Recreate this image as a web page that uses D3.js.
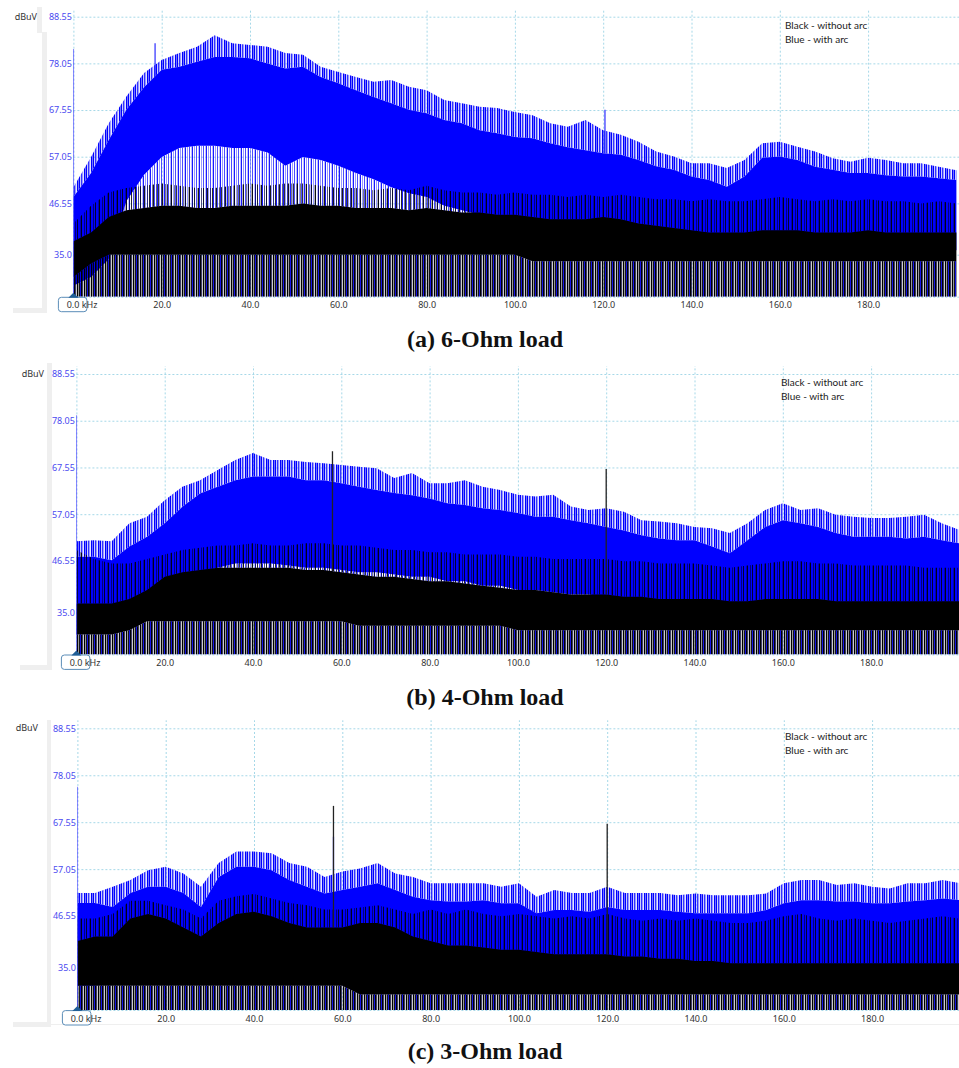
<!DOCTYPE html>
<html>
<head>
<meta charset="utf-8">
<script src="https://cdnjs.cloudflare.com/ajax/libs/d3/7.8.5/d3.min.js"></script>
<style>
  body { margin: 0; background: #fff; }
  svg { display: block; }
</style>
</head>
<body>
<div id="chart"></div>
<script>
var svgWidth = 959;
var svgHeight = 1068;
var pxPerKhz = 4.415;

var yMin = 25.55;
var yMax = 88.55;
var yTicks = [88.55, 78.05, 67.55, 57.05, 46.55, 35.0];
var yTickLabels = ["88.55", "78.05", "67.55", "57.05", "46.55", "35.0"];
var xTicks = [20, 40, 60, 80, 100, 120, 140, 160, 180];
var xGrid = [0, 20, 40, 60, 80, 100, 120, 140, 160, 180];
var legendLines = ["Black - without arc", "Blue - with arc"];
var captions = ["(a) 6-Ohm load", "(b) 4-Ohm load", "(c) 3-Ohm load"];

// kHz, one reading every 4 kHz
var freq = [0, 4, 8, 12, 16, 20, 24, 28, 32, 36,
  40, 44, 48, 52, 56, 60, 64, 68, 72, 76,
  80, 84, 88, 92, 96, 100, 104, 108, 112, 116,
  120, 124, 128, 132, 136, 140, 144, 148, 152, 156,
  160, 164, 168, 172, 176, 180, 184, 188, 192, 196,
  200];

// (a) 6-Ohm, dBuV: peak = top of spikes, hi / lo = edges of the dense band
var aBluePeak = [50.2, 57, 64.6, 70.6, 75.9, 78.8, 80.4, 81.8, 84.4, 82.6,
  82.2, 81.8, 80.4, 80, 77.3, 76.1, 75, 73.9, 74.3, 72.8,
  72, 69.8, 69.1, 68.3, 68, 67.1, 66.4, 64.6, 63.8, 65.3,
  63, 62, 60.4, 58.2, 57.1, 55.6, 55.6, 54.5, 56.3, 60.1,
  60.4, 59.3, 58.2, 56.7, 55.9, 56.8, 56.3, 55.6, 55.6, 54.8,
  54];
var aBlueHi = [48, 53.4, 60.8, 67.6, 72.7, 76.6, 77.3, 78.4, 79.5, 79.5,
  79.2, 78, 76.9, 77.3, 75, 73.6, 72, 70.5, 69.1, 67.6,
  66.8, 65.3, 64.6, 63, 62.3, 61.5, 61.2, 60.1, 59.2, 58.5,
  57.8, 57.5, 56.3, 54.9, 54.1, 52.6, 51.8, 50.3, 52.6, 56.8,
  57.1, 56.3, 54.8, 54.1, 53.4, 53.4, 52.9, 52.6, 52.6, 52.2,
  51.8];
var aBlueLo = [28, 30, 34, 47, 53, 57, 59, 59.5, 59.5, 59,
  59, 58, 55, 57, 56.3, 55, 53.4, 52, 50.2, 48.8,
  48, 46, 45, 44, 43, 42, 41, 40, 39, 38,
  37.5, 37, 37, 36.5, 36, 36, 36, 36, 36, 36,
  36, 36, 36, 36, 36, 36, 36, 36, 36, 36,
  36];
var aBlackPeak = [42, 46, 49, 50, 50.5, 51, 50.5, 50, 50, 50.5,
  51, 50.5, 51, 51, 50.5, 50, 50, 49.5, 50, 49.5,
  50.5, 49.5, 49, 49, 48.5, 49, 48.5, 48.5, 48, 48.5,
  48, 48.5, 48, 47.5, 47.5, 47, 47.5, 47, 47, 47.5,
  48, 47.5, 47, 47.5, 47, 47.5, 47, 47, 46.5, 47,
  46.5];
var aBlackHi = [38, 40, 43.5, 45, 45.5, 46, 46, 45.5, 45.5, 46,
  46, 46, 46, 46.5, 46, 46, 45.5, 45.5, 45.5, 45,
  45.5, 45, 44.5, 44.5, 44, 44, 43.5, 43, 43, 43,
  43.5, 43, 42, 41.5, 41, 40.5, 40, 40, 40, 40.5,
  40.5, 40.5, 40, 40, 40, 40.5, 40, 40, 40, 40,
  40];
var aBlackLo = [30, 33, 35, 35, 35, 35, 35, 35, 35, 35,
  35, 35, 35, 35, 35, 35, 35, 35, 35, 35,
  35, 35, 35, 35, 35, 35, 33.5, 33.5, 33.5, 33.5,
  33.5, 33.5, 33.5, 33.5, 33.5, 33.5, 33.5, 33.5, 33.5, 33.5,
  33.5, 33.5, 33.5, 33.5, 33.5, 33.5, 33.5, 33.5, 33.5, 33.5,
  33.5];
var aSpikeF = [0, 18.5, 120.4];
var aSpikeV = [81.3, 82.6, 67.6];
var aSpikeS = ["blue", "blue", "blue"];

// (b) 4-Ohm
var bBluePeak = [51, 51.2, 51, 55, 56.5, 60.2, 63.2, 64.7, 67, 69.2,
  70.8, 69.2, 69.2, 68.8, 68.5, 68.1, 67.7, 67.4, 65.2, 66.3,
  64, 64, 64.7, 63.2, 62.5, 61.4, 61, 61.4, 58.8, 58,
  58.4, 57.6, 55.7, 55.4, 55, 54.2, 53.9, 52.8, 55, 58,
  59.5, 58, 58.4, 56.9, 56.5, 56.2, 56.2, 56.5, 56.9, 55,
  53.5];
var bBlueHi = [47.5, 47.5, 46.7, 49.8, 52, 55, 58.7, 61.7, 63.2, 64.7,
  65.5, 65.5, 65.5, 64.7, 64.7, 64, 63.2, 62.5, 61.8, 61.3,
  60.6, 59.5, 59.1, 58.4, 58, 57.3, 56.5, 56.5, 55.7, 55,
  54.2, 53.4, 52.3, 51.6, 51.2, 51.2, 49.8, 48.3, 51.2, 54.2,
  55.7, 55, 54.2, 52.8, 52, 52, 52, 51.6, 52, 51.2,
  50.5];
var bBlueLo = [30, 31, 32, 34, 38, 40, 42, 44, 45, 46,
  46, 46, 45.5, 45, 45, 44.5, 44, 44, 43.5, 43,
  43, 42, 42, 41, 41, 40, 40, 39.5, 39, 39,
  38.5, 38, 38, 37.5, 37.5, 37, 37, 37, 37, 37,
  37, 37, 36.5, 36.5, 36.5, 36.5, 36, 36, 36, 36,
  36];
var bBlackPeak = [49, 47, 46, 46, 47, 48, 49, 49.5, 50, 50,
  50.5, 50, 50, 50.5, 50.5, 50, 50, 49.5, 49, 49,
  48.5, 48.5, 48, 48, 48, 47.5, 47.5, 47, 47, 47,
  47, 46.5, 46.5, 46, 46, 46, 45.5, 45, 45.5, 46,
  46.5, 46.5, 46, 46, 45.5, 45.5, 45.5, 45.5, 45, 45,
  45];
var bBlackHi = [37, 37, 37, 38, 40, 43, 44, 44.5, 45, 45,
  45, 45, 45, 44.5, 44.5, 44, 43.5, 43, 43, 42.5,
  42, 42, 41.5, 41, 40.5, 40, 40, 39.5, 39, 39,
  39, 38.5, 38.5, 38, 38, 38, 38, 37.5, 37.5, 38,
  38, 38, 38, 37.5, 37.5, 37.5, 37.5, 37.5, 37.5, 37.5,
  37.5];
var bBlackLo = [30, 30, 30, 31, 33, 33, 33, 33, 33, 33,
  33, 33, 33, 33, 33, 33, 32, 32, 32, 32,
  32, 32, 32, 32, 32, 31, 31, 31, 31, 31,
  31, 31, 31, 31, 31, 31, 31, 31, 31, 31,
  31, 31, 31, 31, 31, 31, 31, 31, 31, 31,
  31];
var bSpikeF = [0, 58, 120];
var bSpikeV = [79.3, 71.2, 67.2];
var bSpikeS = ["blue", "black", "black"];

// (c) 3-Ohm
var cBluePeak = [51.7, 51.7, 53.1, 54.6, 56.8, 57.6, 56.1, 53.1, 58.4, 61,
  61, 60.6, 58.4, 57.6, 55.3, 56.5, 57.2, 58.4, 56.1, 55.3,
  53.9, 53.9, 53.9, 53.9, 53.1, 53.9, 50.9, 52.4, 51.7, 51.7,
  53.1, 51.7, 51.7, 51.7, 51.2, 51.6, 51.2, 51.2, 51.2, 51.6,
  53.9, 54.6, 54.6, 53.5, 53.9, 53.1, 52.7, 53.9, 53.9, 54.6,
  53.9];
var cBlueHi = [49.5, 49.5, 48.6, 51.7, 53.1, 53.1, 51.7, 48.6, 55.3, 57.6,
  57.6, 56.8, 54.6, 53.1, 51.6, 52.4, 53.1, 53.9, 52.4, 50.9,
  50.1, 49.8, 49.8, 50.1, 49.4, 49.4, 47.2, 47.9, 47.9, 47.5,
  48.6, 47.9, 47.9, 47.9, 47.5, 47.2, 47.2, 47.2, 47.2, 47.9,
  49.4, 50.1, 50.1, 49.8, 49.8, 49.4, 49.4, 49.8, 50.1, 50.5,
  50.1];
var cBlueLo = [31, 31, 32, 33, 33, 33, 33, 34, 34, 35,
  35, 35, 34, 34, 34, 33.5, 33.5, 33.5, 33.5, 33,
  33, 33, 33, 33, 33, 33, 33, 33, 33, 33,
  33, 33, 33, 33, 33, 33, 33, 33, 33, 33,
  33, 33, 33, 33, 33, 33, 33, 33, 33, 33,
  33];
var cBlackPeak = [46, 46, 47, 50, 50, 49, 48, 46, 50, 51,
  51.5, 50.5, 49.5, 49, 48, 48, 48.5, 49, 48, 47,
  48, 47, 48, 47, 46.5, 47, 46.5, 46, 46.5, 46,
  47, 46, 45.5, 46, 45.5, 46, 45.5, 45, 45, 45.5,
  46.5, 47, 46, 45.5, 46, 45.5, 45, 45.5, 46, 46.5,
  46];
var cBlackHi = [41, 42, 42, 46, 47, 46, 44, 42, 45, 47,
  47.5, 46.5, 45, 44, 44, 44, 45, 45, 44, 42,
  41, 40, 40, 39.5, 39, 39, 38.5, 38, 38, 38,
  38, 37.5, 37.5, 37, 37, 36.5, 36.5, 36, 36, 36,
  36, 36, 36, 36, 36, 36, 36, 36, 36, 36,
  36];
var cBlackLo = [31, 31, 31, 31, 31, 31, 31, 31, 31, 31,
  31, 31, 31, 31, 31, 31, 29, 29, 29, 29,
  29, 29, 29, 29, 29, 29, 29, 29, 29, 29,
  29, 29, 29, 29, 29, 29, 29, 29, 29, 29,
  29, 29, 29, 29, 29, 29, 29, 29, 29, 29,
  29];
var cSpikeF = [0, 58, 58, 120];
var cSpikeV = [75.5, 64.3, 71.2, 67.2];
var cSpikeS = ["blue", "blue", "black", "black"];

// layout of the three screenshots stacked on the page
var panels = [
  { x0: 73.4, top: 16.7, bottom: 296.7, unitX: 37, legendX: 785, capY: 347, caption: captions[0],
    blue: { peak: aBluePeak, hi: aBlueHi, lo: aBlueLo },
    black: { peak: aBlackPeak, hi: aBlackHi, lo: aBlackLo },
    spikes: { f: aSpikeF, v: aSpikeV, s: aSpikeS },
    frame: [[37, 7, 5, 26], [42, 32, 5, 278], [13, 308, 34, 5]] },
  { x0: 76.4, top: 374, bottom: 654.4, unitX: 44, legendX: 781, capY: 704.5, caption: captions[1],
    blue: { peak: bBluePeak, hi: bBlueHi, lo: bBlueLo },
    black: { peak: bBlackPeak, hi: bBlackHi, lo: bBlackLo },
    spikes: { f: bSpikeF, v: bSpikeV, s: bSpikeS },
    frame: [[47, 363, 5, 302], [20, 665, 32, 5]] },
  { x0: 77.4, top: 728.3, bottom: 1010, unitX: 38, legendX: 785, capY: 1058.6, caption: captions[2],
    blue: { peak: cBluePeak, hi: cBlueHi, lo: cBlueLo },
    black: { peak: cBlackPeak, hi: cBlackHi, lo: cBlackLo },
    spikes: { f: cSpikeF, v: cSpikeV, s: cSpikeS },
    frame: [[47, 720, 4, 302], [13, 1022, 38, 5], [51, 1024, 908, 1]] }
];

var svg = d3.select("#chart")
  .append("svg")
  .attr("width", svgWidth)
  .attr("height", svgHeight);

var labelFont = "'Noto Sans', 'Open Sans', sans-serif";

// uneven vertical hatching so the sparse parts read like a spectrum trace
var defs = svg.append("defs");
function stripes(id, color, opacities) {
  var pat = defs.append("pattern")
    .attr("id", id)
    .attr("patternUnits", "userSpaceOnUse")
    .attr("width", opacities.length)
    .attr("height", 8);
  opacities.forEach(function (o, i) {
    pat.append("rect")
      .attr("x", i)
      .attr("y", 0)
      .attr("width", 1)
      .attr("height", 8)
      .attr("fill", color)
      .attr("fill-opacity", o);
  });
}
stripes("blueTop", "#0000ff", [1, 0.55, 1, 0.2, 0.8, 0.4, 0.1]);
stripes("blueLow", "#0000ff", [0.7, 0, 0.25, 0.9, 0, 0.4, 0]);
stripes("blackTop", "#000", [0.9, 0, 0, 0.5, 0, 0.8, 0, 0, 0.3]);
stripes("blackLow", "#000", [1, 0.4, 0.9, 0.1, 1, 0.6, 0.2]);

// one spectrum: sparse floor, dense band, sparse spikes on top
function drawSeries(parent, xScale, yScale, s, color, name) {
  var floorArea = d3.area()
    .x((d, i) => xScale(freq[i]))
    .y0(yScale(yMin))
    .y1((d, i) => yScale(s.lo[i]));
  var coreArea = d3.area()
    .x((d, i) => xScale(freq[i]))
    .y0((d, i) => yScale(s.lo[i]))
    .y1((d, i) => yScale(s.hi[i]));
  var spikeArea = d3.area()
    .x((d, i) => xScale(freq[i]))
    .y0((d, i) => yScale(s.hi[i]))
    .y1((d, i) => yScale(s.peak[i]));

  parent.append("path").datum(freq)
    .attr("d", floorArea)
    .attr("fill", `url(#${name}Low)`);
  parent.append("path").datum(freq)
    .attr("d", spikeArea)
    .attr("fill", `url(#${name}Top)`);
  parent.append("path").datum(freq)
    .attr("d", coreArea)
    .attr("fill", color);
}

function drawPanel(p, k) {
  var plotW = svgWidth - p.x0;
  var xScale = d3.scaleLinear()
    .domain([0, plotW / pxPerKhz])
    .range([p.x0, svgWidth]);
  var yScale = d3.scaleLinear()
    .domain([yMin, yMax])
    .range([p.bottom, p.top]);

  var g = svg.append("g");

  g.selectAll(".frame")
    .data(p.frame)
    .enter()
    .append("rect")
    .attr("x", d => d[0])
    .attr("y", d => d[1])
    .attr("width", d => d[2])
    .attr("height", d => d[3])
    .attr("fill", "#efefef");

  // dotted grid
  var hGrid = g.append("g")
    .attr("transform", `translate(${p.x0},0)`)
    .call(d3.axisLeft(yScale).tickValues(yTicks.concat([yMin])).tickSize(-plotW).tickFormat(""));
  var vGrid = g.append("g")
    .attr("transform", `translate(0,${p.bottom})`)
    .call(d3.axisBottom(xScale).tickValues(xGrid).tickSize(-(p.bottom - p.top + 8)).tickFormat(""));
  [hGrid, vGrid].forEach(function (grid) {
    grid.select(".domain").remove();
    grid.selectAll("line")
      .attr("stroke", "#a6d8e8")
      .attr("stroke-dasharray", "2,2");
  });

  svg.append("clipPath")
    .attr("id", "clip" + k)
    .append("rect")
    .attr("x", p.x0)
    .attr("y", p.top - 8)
    .attr("width", plotW)
    .attr("height", p.bottom - p.top + 8);

  var plot = g.append("g").attr("clip-path", `url(#clip${k})`);
  drawSeries(plot, xScale, yScale, p.blue, "#0000ff", "blue");
  drawSeries(plot, xScale, yScale, p.black, "#000000", "black");

  // single tall lines rise from the top of their own trace (DC line from the floor)
  var blueTop = d3.scaleLinear().domain(freq).range(p.blue.hi);
  var blackTop = d3.scaleLinear().domain(freq).range(p.black.hi);
  plot.selectAll(".spike")
    .data(p.spikes.f)
    .enter()
    .append("line")
    .attr("x1", d => xScale(d))
    .attr("x2", d => xScale(d))
    .attr("y1", (d, i) => d === 0 ? yScale(yMin)
      : yScale(p.spikes.s[i] === "blue" ? blueTop(d) : blackTop(d)))
    .attr("y2", (d, i) => yScale(p.spikes.v[i]))
    .attr("stroke", (d, i) => p.spikes.s[i] === "blue" ? "#3c3cff" : "#222")
    .attr("stroke-width", 1.3);

  // tick labels
  var yAxis = g.append("g")
    .attr("transform", `translate(${p.x0 - 0.5},0)`)
    .call(d3.axisLeft(yScale).tickValues(yTicks).tickSize(0).tickPadding(1)
      .tickFormat((d, i) => yTickLabels[i]));
  yAxis.select(".domain").remove();
  yAxis.attr("font-family", labelFont).attr("font-size", 9);
  yAxis.selectAll("text").attr("fill", "#4a4af0");

  var xAxis = g.append("g")
    .attr("transform", `translate(0,${p.bottom})`)
    .call(d3.axisBottom(xScale).tickValues(xTicks).tickSize(0).tickPadding(5.2)
      .tickFormat(d3.format(".1f")));
  xAxis.select(".domain").remove();
  xAxis.attr("font-family", labelFont).attr("font-size", 9);
  xAxis.selectAll("text").attr("fill", "#333");

  // start marker "0.0 kHz"
  g.append("rect")
    .attr("x", p.x0 - 15)
    .attr("y", p.bottom + 0.6)
    .attr("width", 28.5)
    .attr("height", 14.4)
    .attr("rx", 3)
    .attr("fill", "#fff")
    .attr("stroke", "#5b8db8");
  g.append("path")
    .attr("d", `M${p.x0 - 5},${p.bottom + 1}L${p.x0},${p.bottom - 4}L${p.x0 + 5},${p.bottom + 1}Z`)
    .attr("fill", "#1f5e96");
  g.append("text")
    .attr("x", p.x0 - 6.7)
    .attr("y", p.bottom + 11.6)
    .attr("font-family", labelFont)
    .attr("font-size", 9)
    .attr("fill", "#333")
    .text("0.0 kHz");

  g.append("text")
    .attr("x", p.unitX)
    .attr("y", p.top + 3)
    .attr("text-anchor", "end")
    .attr("font-family", labelFont)
    .attr("font-size", 9)
    .attr("fill", "#333")
    .text("dBuV");

  g.selectAll(".legend")
    .data(legendLines)
    .enter()
    .append("text")
    .attr("x", p.legendX)
    .attr("y", (d, i) => p.top + 11.8 + i * 14)
    .attr("font-family", "Lato, 'Open Sans', sans-serif")
    .attr("font-size", 10)
    .attr("fill", "#222")
    .text(d => d);

  g.append("text")
    .attr("x", 485)
    .attr("y", p.capY)
    .attr("text-anchor", "middle")
    .attr("font-family", "'Liberation Serif', 'DejaVu Serif', serif")
    .attr("font-weight", "bold")
    .attr("font-size", 24)
    .attr("fill", "#111")
    .text(p.caption);
}

panels.forEach(function (p, k) {
  drawPanel(p, k);
});
</script>
</body>
</html>
